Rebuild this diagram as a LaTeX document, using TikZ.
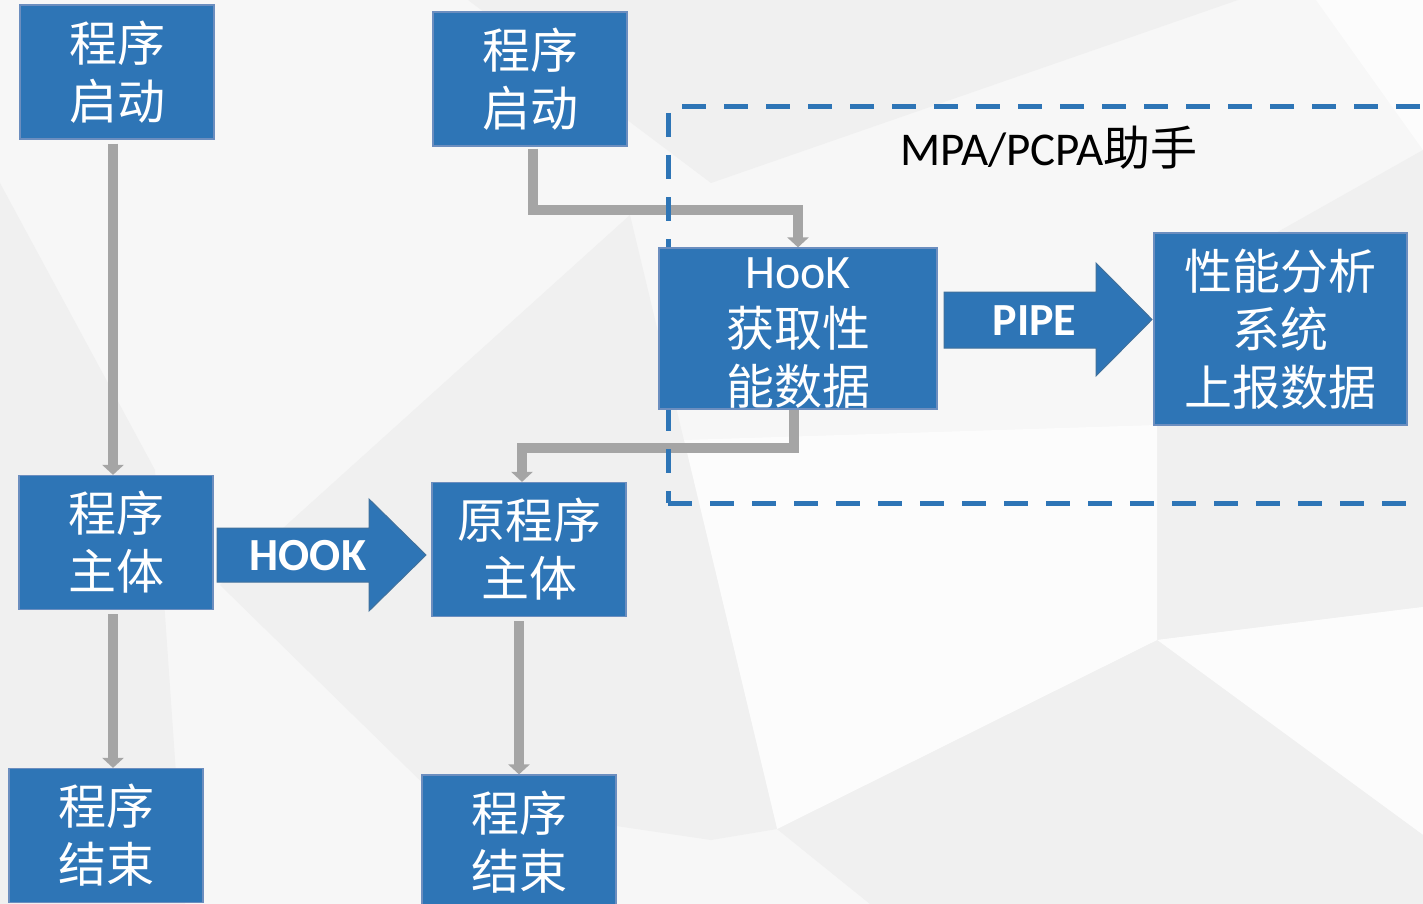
\documentclass[tikz,border=0pt]{standalone}
\usepackage{fontspec}
\setmainfont{Carlito}
\newfontfamily\cjk{Noto Sans CJK SC}
\usetikzlibrary{arrows.meta}
\definecolor{boxblue}{HTML}{2E75B6}
\definecolor{boxedge}{HTML}{6C8EBF}
\definecolor{arredge}{HTML}{41719C}
\definecolor{conngray}{HTML}{A5A5A5}
\definecolor{bgbase}{HTML}{F7F7F7}
\definecolor{bgdark}{HTML}{F0F0F0}
\definecolor{bglight}{HTML}{FCFCFC}
\pgfdeclarelayer{bglayer}
\pgfdeclarelayer{connlayer}
\pgfdeclarelayer{dashlayer}
\pgfsetlayers{bglayer,connlayer,dashlayer,main}
\begin{document}
\begin{tikzpicture}[x=1pt,y=-1pt,
  box/.style={draw=boxedge, line width=1.2pt, fill=boxblue, inner sep=0pt,
    minimum width=194pt, minimum height=134pt, text=white, align=center,
    font=\cjk\fontsize{48}{58}\selectfont},
  conn/.style={draw=conngray, line width=10pt, -{Triangle[width=21pt,length=10pt]}},
  blockarrow/.style={fill=boxblue, draw=arredge, line width=1pt},
  arrowlabel/.style={text=white, inner sep=0pt, font=\bfseries\fontsize{46}{50}\selectfont},
  frame/.style={draw=boxblue, line width=5pt, dash pattern=on 24pt off 18pt}]
\useasboundingbox (0,0) rectangle (1423,904);
\clip (0,0) rectangle (1423,904);
\begin{pgfonlayer}{bglayer}
\fill[bgbase] (0,0) rectangle (1423,904);
\fill[bgdark] (468,0) -- (1238,0) -- (711,183) -- cycle;
\fill[bglight] (1316,0) -- (1423,0) -- (1423,150) -- cycle;
\fill[bgdark] (1423,150) -- (1423,607) -- (1157,640) -- (1157,300) -- cycle;
\fill[bglight] (1157,640) -- (1423,607) -- (1423,835) -- cycle;
\fill[bgdark] (777,829) -- (1157,640) -- (1423,835) -- (1423,904) -- (870,904) -- cycle;
\fill[bglight] (684,440) -- (1157,425) -- (1157,640) -- (777,829) -- cycle;
\fill[bgdark] (630,215) -- (220,585) -- (440,800) -- (711,840) -- (777,829) -- cycle;
\fill[bgdark] (0,183) -- (155,470) -- (185,904) -- (0,904) -- cycle;
\end{pgfonlayer}

\node[box] (A1) at (117,72) {程序\\启动};
\node[box] (A2) at (116,542.5) {程序\\主体};
\node[box] (A3) at (106,835.5) {程序\\结束};
\node[box] (B1) at (530,79) {程序\\启动};
\node[box] (B2) at (529,549.5) {原程序\\主体};
\node[box] (B3) at (519,842) {程序\\结束};
\node[box, minimum width=278pt, minimum height=161pt] (H) at (798,328.5) {{\rmfamily HooK}\vphantom{获}\\获取性\\能数据};
\node[box, minimum width=253pt, minimum height=192pt] (S) at (1280.5,329) {性能分析\\系统\\上报数据};

\begin{pgfonlayer}{connlayer}
\draw[conn] ([xshift=-4pt,yshift=-4pt]A1.south) -- ([xshift=-4pt]A1.south |- A2.north);
\draw[conn] ([xshift=-3pt,yshift=-4pt]A2.south) -- ([xshift=-3pt]A2.south |- A3.north);
\draw[conn] ([xshift=3pt,yshift=-2pt]B1.south) -- ++(0,61) -| (H.north);
\draw[conn] ([xshift=-4pt]H.south) -- ++(0,38) -| ([xshift=-7pt]B2.north);
\draw[conn] ([xshift=-10pt,yshift=-4pt]B2.south) -- ([xshift=-10pt]B2.south |- B3.north);
\end{pgfonlayer}

\begin{pgfonlayer}{dashlayer}
\coordinate (fTL) at (668,107);
\coordinate (fBL) at (668,503);
\coordinate (fTR) at (1440,107);
\coordinate (fBR) at (1440,503);
\draw[frame, dash phase=28pt] (fTL) -- (fTR);
\draw[frame, dash phase=36pt] (fTL) -- (fBL);
\draw[frame] (fBL) -- (fBR);
\end{pgfonlayer}

\draw[blockarrow] (217,528) -- (369,528) -- (369,499) -- (426,555) -- (369,611) -- (369,582) -- (217,582) -- cycle;
\node[arrowlabel] (hook) at (308,556) {HOOK};
\draw[blockarrow] (944,292) -- (1096,292) -- (1096,263) -- (1152,319.5) -- (1096,376) -- (1096,348) -- (944,348) -- cycle;
\node[arrowlabel] (pipe) at (1034.5,321) {PIPE};

\node[anchor=base west, inner sep=0pt, font=\fontsize{47}{50}\selectfont] (mpa) at (900,166) {MPA/PCPA{\cjk 助手}};
\end{tikzpicture}
\end{document}
